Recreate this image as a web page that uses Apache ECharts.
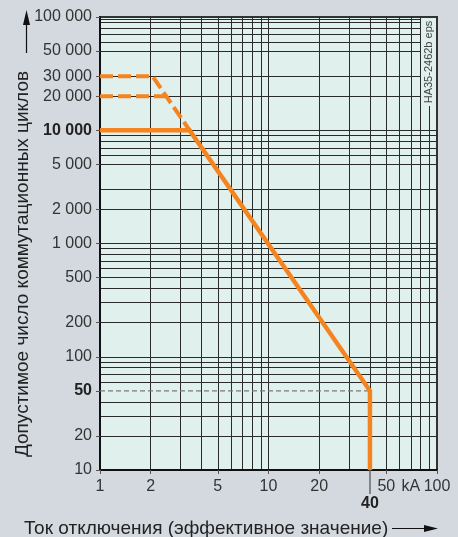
<!DOCTYPE html>
<html>
<head>
<meta charset="utf-8">
<script src="https://cdn.jsdelivr.net/npm/echarts@6/dist/echarts.min.js"></script>
<style>
  html, body { margin: 0; padding: 0; background: #d3d9df; }
  #chart { width: 458px; height: 537px; }
</style>
</head>
<body>
<div id="chart"></div>
<script>
// grid lines (log axes, values in data units)
const xGrid = [2, 3, 4, 5, 6, 7, 8, 9, 10, 20, 30, 40, 50, 60, 70, 80, 90];
const yGrid = [20, 30, 40, 60, 70, 80, 90, 100, 200, 300, 400, 500, 600, 700, 800, 900,
    1000, 2000, 3000, 5000, 6000, 7000, 8000, 9000, 10000,
    20000, 30000, 50000, 60000, 70000, 80000, 90000, 95000];

// tick labels
const xLabels = [1, 2, 5, 10, 20, 50, 70, 100]; // 70 carries the "kA" unit
const xTicks = [1, 2, 5, 10, 20, 50, 100];
const yLabels = [10, 20, 50, 100, 200, 500, 1000, 2000, 5000, 10000, 20000, 30000, 50000, 100000];
const boldY = [50, 10000];

// curves: [current kA, cycles]
const solidLine = [[1, 10000], [3.4, 10000], [40, 50], [40, 10]];
const dashed30k = [[1, 30000], [2.05, 30000], [3.4, 10000]];
const dashed20k = [[1, 20000], [2.45, 20000]];
const refLine50 = [[1, 50], [40, 50]];

const ORANGE = "#f5841f";
const NARROW = "'Liberation Sans Narrow', 'Arial Narrow', sans-serif";
const PLAIN = "'Liberation Sans', Arial, sans-serif";

const fmtNum = (v) => String(v).replace(/\B(?=(\d{3})+(?!\d))/g, " ");

const chart = echarts.init(document.getElementById("chart"));

const baseX = {type: "log", logBase: 10, min: 1, max: 100, gridIndex: 0, position: "bottom"};
const baseY = {type: "log", logBase: 10, min: 10, max: 100000, gridIndex: 0, position: "left"};

const option = {
    backgroundColor: "#d3d9df",
    animation: false,
    grid: {
        left: 100, right: 21, top: 17, bottom: 67,
        show: true,
        backgroundColor: "#dff0ed",
        borderColor: "#333",
        borderWidth: 2,
        outerBoundsMode: "none",
    },
    xAxis: [
        {
            ...baseX,
            axisLine: {show: true, lineStyle: {color: "#111", width: 2}},
            axisTick: {show: false, customValues: xGrid},
            axisLabel: {show: false},
            splitLine: {show: true, lineStyle: {color: "#2a2a2a", width: 1}},
        },
        {
            ...baseX,
            axisLine: {show: false},
            axisTick: {show: true, customValues: xTicks, length: 4, lineStyle: {color: "#555"}},
            axisLabel: {
                customValues: xLabels,
                margin: 9,
                color: "#333",
                fontFamily: NARROW,
                fontSize: 16,
                hideOverlap: false,
                formatter: (v) => (Math.round(v) === 70 ? "kA" : fmtNum(Math.round(v))),
            },
            splitLine: {show: false},
        },
        {
            ...baseX,
            axisLine: {show: false},
            axisTick: {show: true, customValues: [40], length: 24, lineStyle: {color: "#666", width: 1.5}},
            axisLabel: {
                customValues: [40],
                margin: 26,
                color: "#222",
                fontFamily: NARROW,
                fontSize: 16,
                fontWeight: "bold",
                formatter: (v) => String(Math.round(v)),
            },
            splitLine: {show: false},
        },
    ],
    yAxis: [
        {
            ...baseY,
            axisLine: {show: true, lineStyle: {color: "#111", width: 2}},
            axisTick: {show: false, customValues: yGrid},
            axisLabel: {show: false},
            splitLine: {show: true, lineStyle: {color: "#2a2a2a", width: 1}},
        },
        {
            ...baseY,
            axisLine: {show: false},
            axisTick: {show: true, customValues: yLabels, length: 4, lineStyle: {color: "#555"}},
            axisLabel: {
                customValues: yLabels,
                margin: 8,
                color: "#333",
                fontFamily: NARROW,
                fontSize: 16,
                hideOverlap: false,
                formatter: (v) => {
                    const n = Math.round(v);
                    return boldY.includes(n) ? "{b|" + fmtNum(n) + "}" : fmtNum(n);
                },
                rich: {
                    b: {fontFamily: NARROW, fontSize: 16, fontWeight: "bold", color: "#222"},
                },
            },
            splitLine: {show: false},
        },
    ],
    series: [
        {
            type: "line",
            data: refLine50,
            symbol: "none",
            silent: true,
            lineStyle: {color: "#7a7a7a", width: 1.3, type: [5, 3]},
            z: 3,
        },
        {
            type: "line",
            data: dashed30k,
            symbol: "none",
            silent: true,
            lineStyle: {color: ORANGE, width: 4, type: [13, 5], join: "round"},
            z: 4,
        },
        {
            type: "line",
            data: dashed20k,
            symbol: "none",
            silent: true,
            lineStyle: {color: ORANGE, width: 4, type: [13, 5]},
            z: 4,
        },
        {
            type: "line",
            data: solidLine,
            symbol: "none",
            silent: true,
            lineStyle: {color: ORANGE, width: 4.5, join: "miter"},
            z: 5,
        },
    ],
    graphic: [
        // drawing id, vertical along the right edge
        {
            type: "rect",
            shape: {x: 421, y: 18, width: 15, height: 88},
            style: {fill: "#dff0ed"},
            z: 50,
        },
        {
            type: "text",
            x: 429, y: 62,
            rotation: Math.PI / 2,
            style: {
                text: "HA35-2462b eps",
                fill: "#444",
                font: "11px " + NARROW,
                align: "center",
                verticalAlign: "middle",
            },
            z: 51,
        },
        // y axis title with arrow
        {
            type: "text",
            x: 23, y: 264,
            rotation: Math.PI / 2,
            style: {
                text: "Допустимое число коммутационных циклов",
                fill: "#222",
                font: "19px " + PLAIN,
                align: "center",
                verticalAlign: "middle",
            },
        },
        {
            type: "line",
            shape: {x1: 26.5, y1: 53, x2: 26.5, y2: 22},
            style: {stroke: "#111", lineWidth: 1.2},
        },
        {
            type: "polygon",
            shape: {points: [[26.5, 10], [23, 25], [30, 25]]},
            style: {fill: "#111"},
        },
        // x axis title with arrow
        {
            type: "text",
            x: 24, y: 529,
            style: {
                text: "Ток отключения (эффективное значение)",
                fill: "#222",
                font: "19px " + PLAIN,
                align: "left",
                verticalAlign: "middle",
            },
        },
        {
            type: "line",
            shape: {x1: 392, y1: 528.5, x2: 428, y2: 528.5},
            style: {stroke: "#111", lineWidth: 1.2},
        },
        {
            type: "polygon",
            shape: {points: [[438, 528.5], [424, 525], [424, 532]]},
            style: {fill: "#111"},
        },
    ],
};

chart.setOption(option);
</script>
</body>
</html>
